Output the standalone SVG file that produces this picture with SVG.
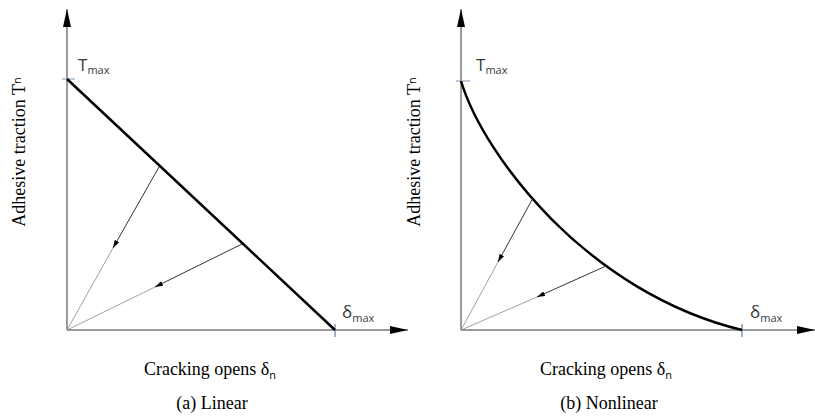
<svg xmlns="http://www.w3.org/2000/svg" width="815" height="416" viewBox="0 0 815 416">
<style>
.axis{stroke:#7a7a7a;stroke-width:1.5;fill:none}
.main{stroke:#000;stroke-width:2.5;fill:none}
.unl{stroke:#333;stroke-width:1;fill:none}
.unl2{stroke:#8a8a8a;stroke-width:0.8;fill:none}
.tickT{stroke:#a8b8cc;stroke-width:1.5}
.tickD{stroke:#5f7fa5;stroke-width:1.2}
.lab{font-family:"Liberation Serif","Times New Roman",serif;font-size:18px;fill:#000}
.sym{font-family:"Open Sans","Liberation Sans",Arial,sans-serif;fill:#3a3a3a}
.sub{font-family:"Open Sans","Liberation Sans",Arial,sans-serif;font-size:11px}
</style>
<defs>
<marker id="ax" markerUnits="userSpaceOnUse" markerWidth="18" markerHeight="8" refX="18" refY="4" orient="auto">
<path d="M0,0 L18,4 L0,8 Z" fill="#000"/>
</marker>
<marker id="ar" markerUnits="userSpaceOnUse" markerWidth="8" markerHeight="5" refX="8" refY="2.5" orient="auto">
<path d="M0,0 L8,2.5 L0,5 Z" fill="#000"/>
</marker>
</defs>

<g id="axes-a">
<line class="axis" x1="67" y1="330" x2="67" y2="9" marker-end="url(#ax)"/>
<line class="axis" x1="67" y1="330" x2="408" y2="330" marker-end="url(#ax)"/>
<line class="tickT" x1="62" y1="79" x2="75" y2="79"/>
<line class="tickD" x1="335" y1="324" x2="335" y2="337"/>
</g>
<g id="axes-b">
<line class="axis" x1="461" y1="330" x2="461" y2="9" marker-end="url(#ax)"/>
<line class="axis" x1="461" y1="330" x2="815" y2="330" marker-end="url(#ax)"/>
<line class="tickT" x1="456" y1="81" x2="470" y2="81"/>
<line class="tickD" x1="742" y1="324" x2="742" y2="337"/>
</g>

<g id="curve-a">
<line class="main" x1="67" y1="79" x2="335" y2="330"/>
</g>
<g id="curve-b">
<path class="main" d="M461,81 C483.5,155.7 587.5,292.7 742,330"/>
</g>

<g id="connectors">
<line class="unl" x1="159" y1="167" x2="113" y2="248" marker-end="url(#ar)"/>
<line class="unl2" x1="113" y1="248" x2="67" y2="330"/>
<line class="unl" x1="242" y1="244" x2="155" y2="287" marker-end="url(#ar)"/>
<line class="unl2" x1="155" y1="287" x2="67" y2="330"/>
<line class="unl" x1="533" y1="198" x2="498" y2="262" marker-end="url(#ar)"/>
<line class="unl2" x1="498" y1="262" x2="461" y2="330"/>
<line class="unl" x1="606" y1="266" x2="537" y2="297" marker-end="url(#ar)"/>
<line class="unl2" x1="537" y1="297" x2="461" y2="330"/>
</g>

<g id="labels-a">
<text class="sym" x="78" y="71" font-size="17">T<tspan class="sub" dy="3">max</tspan></text>
<text class="sym" x="342" y="318" font-size="17">δ<tspan class="sub" dy="4">max</tspan></text>
<text class="lab" transform="translate(25,152) rotate(-90)" text-anchor="middle">Adhesive traction T<tspan class="sub" dy="-4">n</tspan></text>
<text class="lab" x="210" y="375" text-anchor="middle">Cracking opens δ<tspan class="sub" dy="4">n</tspan></text>
<text class="lab" x="212" y="409" text-anchor="middle">(a) Linear</text>
</g>
<g id="labels-b">
<text class="sym" x="476" y="71" font-size="17">T<tspan class="sub" dy="3">max</tspan></text>
<text class="sym" x="750" y="318" font-size="17">δ<tspan class="sub" dy="4">max</tspan></text>
<text class="lab" transform="translate(420,152) rotate(-90)" text-anchor="middle">Adhesive traction T<tspan class="sub" dy="-4">n</tspan></text>
<text class="lab" x="606" y="375" text-anchor="middle">Cracking opens δ<tspan class="sub" dy="4">n</tspan></text>
<text class="lab" x="609" y="409" text-anchor="middle">(b) Nonlinear</text>
</g>
</svg>
